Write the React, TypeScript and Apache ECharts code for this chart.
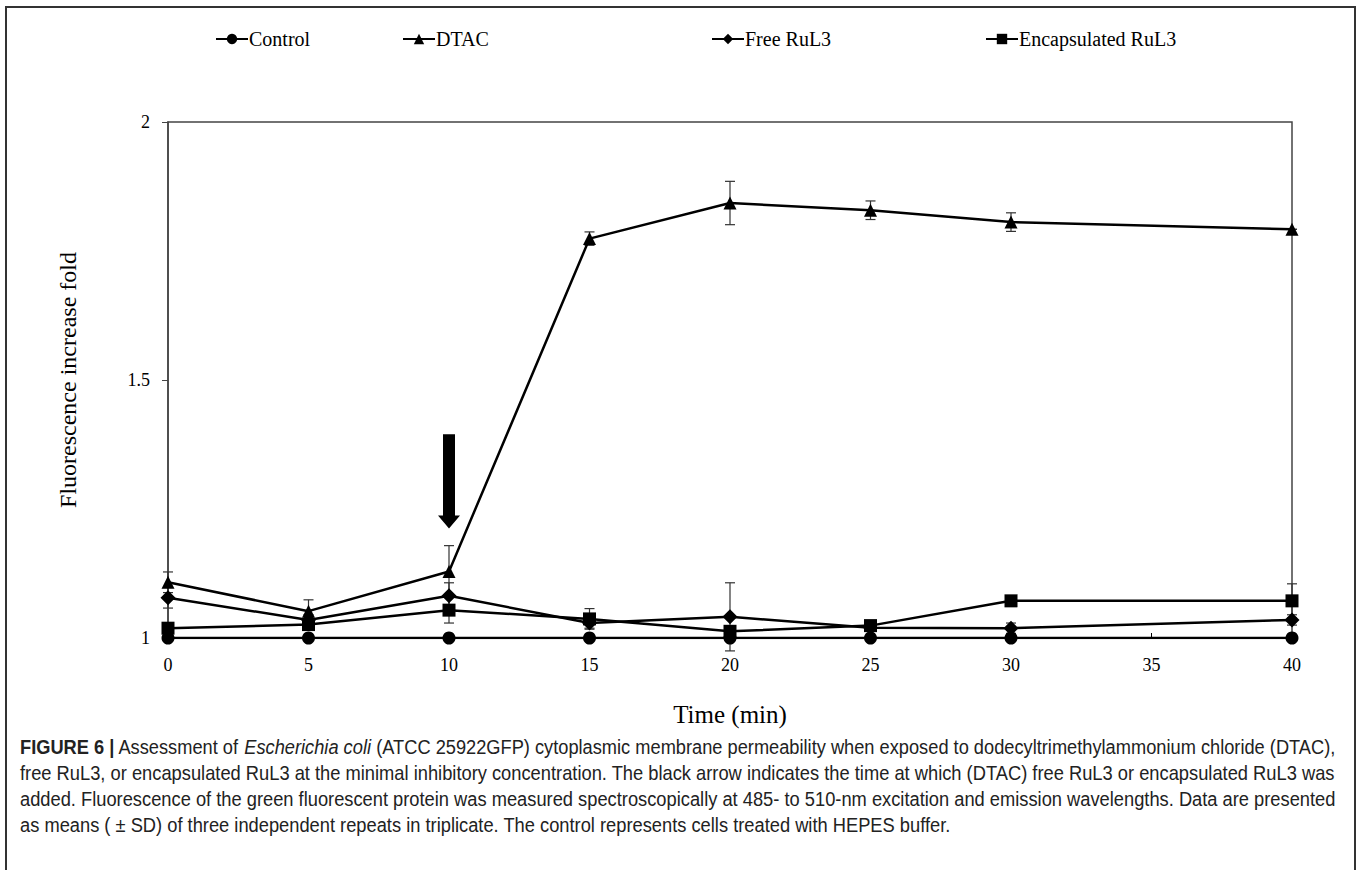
import React, { useEffect, useRef } from "react";
import * as echarts from "echarts";

const times = [0, 5, 10, 15, 20, 25, 30, 40];
const xTicks = [0, 5, 10, 15, 20, 25, 30, 35, 40];
const controlMean = [1, 1, 1, 1, 1, 1, 1, 1];
const dtacMean = [1.108, 1.052, 1.129, 1.774, 1.843, 1.829, 1.806, 1.792];
const dtacSD = [0.02, 0.022, 0.05, 0.013, 0.042, 0.018, 0.018, 0];
const freeMean = [1.078, 1.035, 1.082, 1.029, 1.041, 1.02, 1.019, 1.035];
const freeSD = [0.02, 0.01, 0.025, 0.01, 0.066, 0.005, 0.01, 0.01];
const encMean = [1.019, 1.026, 1.054, 1.037, 1.013, 1.024, 1.072, 1.072];
const encSD = [0.01, 0.01, 0.025, 0.02, 0.01, 0.005, 0.005, 0.033];
const arrowAt = [10];
const arrowTop = [1.395];
const arrowTip = [1.212];

const seriesNames = ["Control", "DTAC", "Free RuL3", "Encapsulated RuL3"];
const symbols = ["circle", "triangle", "diamond", "rect"];

const captionLines = [
  "{b|FIGURE 6 |} Assessment of {i|Escherichia coli} (ATCC 25922GFP) cytoplasmic membrane permeability when exposed to dodecyltrimethylammonium chloride (DTAC),",
  "free RuL3, or encapsulated RuL3 at the minimal inhibitory concentration. The black arrow indicates the time at which (DTAC) free RuL3 or encapsulated RuL3 was",
  "added. Fluorescence of the green fluorescent protein was measured spectroscopically at 485- to 510-nm excitation and emission wavelengths. Data are presented",
  "as means ( \u00b1 SD) of three independent repeats in triplicate. The control represents cells treated with HEPES buffer.",
];

const SERIF = "'Liberation Serif', 'Times New Roman', serif";
const SANS = "'Liberation Sans', Arial, sans-serif";
const CAP_SIZE = 20;
const CAP_LEFT = 20;
const CAP_RIGHT = 1337;

function measureCaption(line: string): number {
  const c = document.createElement("canvas");
  const ctx = c.getContext("2d");
  if (!ctx) return 1000;
  let w = 0;
  const re = /\{(\w)\|([^}]*)\}|([^{]+)/g;
  let m: RegExpExecArray | null;
  while ((m = re.exec(line))) {
    if (m[3] !== undefined) {
      ctx.font = `${CAP_SIZE}px ${SANS}`;
      w += ctx.measureText(m[3]).width;
    } else {
      ctx.font = `${m[1] === "b" ? "bold " : "italic "}${CAP_SIZE}px ${SANS}`;
      w += ctx.measureText(m[2]).width;
    }
  }
  return w;
}

function errData(mean: number[], sd: number[]) {
  return times.map((t, i) => [t, mean[i] - sd[i], mean[i] + sd[i]]);
}

function errSeries(name: string, mean: number[], sd: number[]) {
  return {
    type: "custom",
    name: name + " SD",
    z: 1,
    silent: true,
    data: errData(mean, sd),
    encode: { x: 0, y: [1, 2] },
    renderItem: (params: any, api: any) => {
      const x = api.value(0);
      const lo = api.coord([x, api.value(1)]);
      const hi = api.coord([x, api.value(2)]);
      const w = 5;
      const st = { stroke: "#333", lineWidth: 1.2 };
      return {
        type: "group",
        children: [
          { type: "line", shape: { x1: lo[0], y1: lo[1], x2: hi[0], y2: hi[1] }, style: st },
          { type: "line", shape: { x1: lo[0] - w, y1: lo[1], x2: lo[0] + w, y2: lo[1] }, style: st },
          { type: "line", shape: { x1: hi[0] - w, y1: hi[1], x2: hi[0] + w, y2: hi[1] }, style: st },
        ],
      };
    },
  };
}

function lineSeries(idx: number, data: number[]) {
  return {
    type: "line",
    name: seriesNames[idx],
    z: 3,
    data: times.map((t, i) => [t, data[i]]),
    symbol: symbols[idx],
    symbolSize: idx === 2 ? 15 : 13,
    showAllSymbol: true,
    itemStyle: { color: "#000" },
    lineStyle: { color: "#000", width: 2.5 },
  };
}

const legendLefts = [210, 397, 706, 980];

export default function App() {
  const ref = useRef<HTMLDivElement>(null);
  useEffect(() => {
    if (!ref.current) return;
    const chart = echarts.init(ref.current, null, { renderer: "svg" });
    const widths = captionLines.map(measureCaption);
    const target = CAP_RIGHT - CAP_LEFT;
    const scales = widths.map((w) => target / w);
    const justified = scales.slice(0, 3);
    const avgScale = justified.reduce((a, b) => a + b, 0) / justified.length;
    const option: any = {
      animation: false,
      backgroundColor: "#fff",
      legend: seriesNames.map((n, i) => ({
        data: [n],
        left: legendLefts[i],
        top: 24,
        itemWidth: 32,
        itemHeight: 13,
        itemGap: 0,
        textStyle: { fontFamily: SERIF, fontSize: 20, color: "#000", padding: [0, 0, 0, -4] },
        selectedMode: false,
      })),
      grid: {
        left: 168,
        right: 68,
        top: 122,
        bottom: 232,
        show: true,
        borderColor: "#444",
        borderWidth: 1.5,
        backgroundColor: "transparent",
      },
      xAxis: {
        type: "value",
        min: 0,
        max: 40,
        interval: 5,
        name: "Time (min)",
        nameLocation: "middle",
        nameGap: 64,
        nameTextStyle: { fontFamily: SERIF, fontSize: 25, color: "#000" },
        axisLine: { lineStyle: { color: "#000", width: 1.5 } },
        axisTick: { inside: true, length: 5, lineStyle: { color: "#000" } },
        axisLabel: {
          fontFamily: SERIF,
          fontSize: 18,
          color: "#000",
          margin: 18,
          formatter: (v: number) => (xTicks.includes(v) ? String(v) : ""),
        },
        splitLine: { show: false },
      },
      yAxis: {
        type: "value",
        min: 1,
        max: 2,
        interval: 0.5,
        name: "Fluorescence increase fold",
        nameLocation: "middle",
        nameGap: 88,
        nameTextStyle: { fontFamily: SERIF, fontSize: 24, color: "#000" },
        axisLine: { show: true, lineStyle: { color: "#444", width: 1.5 } },
        axisTick: { show: true, length: 6, lineStyle: { color: "#444" } },
        axisLabel: { fontFamily: SERIF, fontSize: 18, color: "#000", margin: 18 },
        splitLine: { show: false },
      },
      series: [
        errSeries("DTAC", dtacMean, dtacSD),
        errSeries("Free RuL3", freeMean, freeSD),
        errSeries("Encapsulated RuL3", encMean, encSD),
        lineSeries(0, controlMean),
        lineSeries(1, dtacMean),
        lineSeries(2, freeMean),
        lineSeries(3, encMean),
        {
          type: "custom",
          name: "arrow",
          z: 4,
          silent: true,
          data: arrowAt.map((x, i) => [x, arrowTop[i], arrowTip[i]]),
          encode: { x: 0, y: [1, 2] },
          renderItem: (params: any, api: any) => {
            const x = api.value(0);
            const top = api.coord([x, api.value(1)]);
            const tip = api.coord([x, api.value(2)]);
            const sw = 6;
            const hw = 11;
            const hh = 13;
            const cx = top[0];
            return {
              type: "polygon",
              shape: {
                points: [
                  [cx - sw, top[1]],
                  [cx + sw, top[1]],
                  [cx + sw, tip[1] - hh],
                  [cx + hw, tip[1] - hh],
                  [cx, tip[1]],
                  [cx - hw, tip[1] - hh],
                  [cx - sw, tip[1] - hh],
                ],
              },
              style: { fill: "#000" },
            };
          },
        },
      ],
      graphic: [
        {
          type: "rect",
          x: 6,
          y: 7,
          shape: { x: 0, y: 0, width: 1349, height: 880 },
          style: { fill: "none", stroke: "#333", lineWidth: 2 },
          silent: true,
        },
        ...captionLines.map((t, i) => ({
          type: "text",
          x: CAP_LEFT,
          y: 747 + i * 26,
          scaleX: i < 3 ? scales[i] : avgScale,
          silent: true,
          style: {
            x: 0,
            y: 0,
            text: t,
            fontFamily: SANS,
            fontSize: CAP_SIZE,
            fill: "#222",
            verticalAlign: "middle",
            align: "left",
            rich: {
              b: { fontFamily: SANS, fontSize: CAP_SIZE, fontWeight: "bold", fill: "#222" },
              i: { fontFamily: SANS, fontSize: CAP_SIZE, fontStyle: "italic", fill: "#222" },
            },
          },
        })),
      ],
    };
    chart.setOption(option);
    return () => chart.dispose();
  }, []);
  return (
    <div
      ref={ref}
      style={{ position: "fixed", left: 0, top: 0, width: 1360, height: 870, background: "#fff" }}
    />
  );
}
